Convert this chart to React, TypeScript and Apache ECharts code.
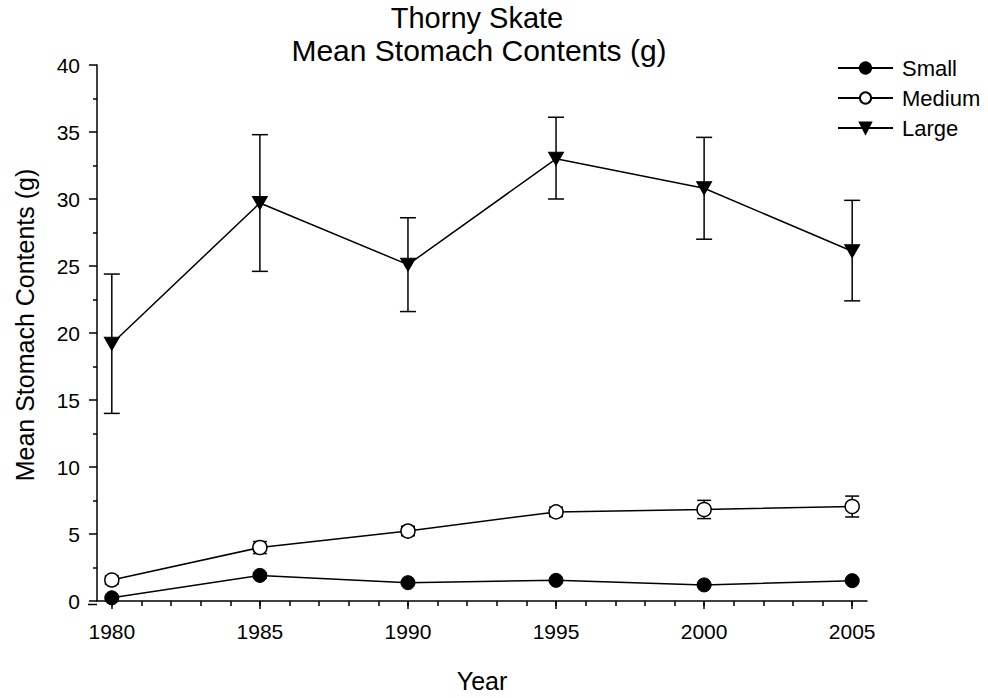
import React, { useEffect, useRef } from "react";
import * as echarts from "echarts";

const years = [1980, 1985, 1990, 1995, 2000, 2005];
const smallMean = [0.24, 1.91, 1.37, 1.54, 1.2, 1.52];
const smallErr = [0.1, 0.18, 0.1, 0.1, 0.1, 0.12];
const mediumMean = [1.57, 3.99, 5.22, 6.65, 6.83, 7.05];
const mediumErr = [0.3, 0.45, 0.35, 0.35, 0.68, 0.78];
const largeMean = [19.2, 29.7, 25.1, 33.0, 30.8, 26.1];
const largeLow = [14.0, 24.6, 21.6, 30.0, 27.0, 22.4];
const largeHigh = [24.4, 34.8, 28.6, 36.1, 34.6, 29.9];
const majorYears = [1980, 1985, 1990, 1995, 2000, 2005];
const minorYears = Array.from({ length: 26 }, (_, i) => 1980 + i);

const FONT = "Liberation Sans, Arial, sans-serif";

function errData(lo: number[], hi: number[]) {
  return years.map((y, i) => [y, lo[i], hi[i]]);
}

function errSeries(name: string, data: number[][], half: number) {
  return {
    type: "custom",
    name: name + "-err",
    xAxisIndex: 0,
    yAxisIndex: 0,
    z: 1,
    silent: true,
    renderItem: (params: any, api: any) => {
      const x = api.value(0);
      const lo = api.coord([x, api.value(1)]);
      const hi = api.coord([x, api.value(2)]);
      const st = { stroke: "#000", lineWidth: 1.5 };
      return {
        type: "group",
        children: [
          { type: "line", shape: { x1: lo[0], y1: lo[1], x2: hi[0], y2: hi[1] }, style: st },
          { type: "line", shape: { x1: lo[0] - half, y1: lo[1], x2: lo[0] + half, y2: lo[1] }, style: st },
          { type: "line", shape: { x1: hi[0] - half, y1: hi[1], x2: hi[0] + half, y2: hi[1] }, style: st },
        ],
      };
    },
    encode: { x: 0, y: [1, 2] },
    data,
  };
}

export default function App() {
  const ref = useRef<HTMLDivElement>(null);
  useEffect(() => {
    document.body.style.margin = "0";
    const chart = echarts.init(ref.current!, undefined, { renderer: "svg" });
    const lineStyle = { color: "#000", width: 1.5 };
    chart.setOption({
      animation: false,
      backgroundColor: "#fff",
      textStyle: { fontFamily: FONT, color: "#000" },
      title: [
        {
          text: "Thorny Skate",
          left: 477,
          top: 3,
          textAlign: "center",
          padding: 0,
          textStyle: { fontFamily: FONT, fontSize: 29, fontWeight: "normal", color: "#000", lineHeight: 29 },
        },
        {
          text: "Mean Stomach Contents (g)",
          left: 479,
          top: 35,
          textAlign: "center",
          padding: 0,
          textStyle: { fontFamily: FONT, fontSize: 30, fontWeight: "normal", color: "#000", lineHeight: 30 },
        },
      ],
      legend: {
        orient: "vertical",
        left: 832,
        top: 52,
        itemWidth: 55,
        itemHeight: 14,
        itemGap: 8,
        data: ["Small", "Medium", "Large"],
        textStyle: { fontFamily: FONT, fontSize: 22, color: "#000", padding: [0, 0, 0, 4] },
      },
      grid: { left: 97, right: 121, top: 65, bottom: 93.5 },
      xAxis: [
        {
          type: "value",
          min: 1979.5,
          max: 2005.5,
          name: "Year",
          nameLocation: "middle",
          nameGap: 67,
          nameTextStyle: { fontFamily: FONT, fontSize: 25, color: "#000" },
          axisLine: { show: true, lineStyle: { color: "#000", width: 1.5 } },
          axisTick: { show: true, customValues: majorYears, length: 8, lineStyle: { color: "#000", width: 1.5 } },
          axisLabel: {
            customValues: majorYears,
            fontSize: 21,
            color: "#000",
            margin: 20,
            fontFamily: FONT,
            formatter: (v: number) => String(v),
          },
          splitLine: { show: false },
        },
        {
          type: "value",
          min: 1979.5,
          max: 2005.5,
          position: "bottom",
          axisLine: { show: false },
          axisTick: { show: true, customValues: minorYears, length: 5, lineStyle: { color: "#000", width: 1.5 } },
          axisLabel: { show: false },
          splitLine: { show: false },
        },
      ],
      yAxis: {
        type: "value",
        min: 0,
        max: 40,
        interval: 5,
        name: "Mean Stomach Contents (g)",
        nameLocation: "middle",
        nameGap: 60,
        nameTextStyle: { fontFamily: FONT, fontSize: 25, color: "#000", padding: [0, 0, 0, 16] },
        axisLine: { show: true, lineStyle: { color: "#000", width: 1.5 } },
        axisTick: { show: true, length: 8, lineStyle: { color: "#000", width: 1.5 } },
        minorTick: { show: true, splitNumber: 2, length: 4, lineStyle: { color: "#000", width: 1.5 } },
        axisLabel: { fontSize: 21, color: "#000", margin: 17, fontFamily: FONT },
        splitLine: { show: false },
      },
      graphic: [
        { type: "line", shape: { x1: 88, y1: 604.5, x2: 97, y2: 604.5 }, style: { stroke: "#000", lineWidth: 1.5 } },
      ],
      series: [
        errSeries("Small", errData(smallMean.map((v, i) => v - smallErr[i]), smallMean.map((v, i) => v + smallErr[i])), 7),
        errSeries("Medium", errData(mediumMean.map((v, i) => v - mediumErr[i]), mediumMean.map((v, i) => v + mediumErr[i])), 7),
        errSeries("Large", errData(largeLow, largeHigh), 8),
        {
          type: "line",
          name: "Small",
          z: 3,
          data: years.map((y, i) => [y, smallMean[i]]),
          symbol: "circle",
          symbolSize: 14,
          lineStyle,
          itemStyle: { color: "#000", borderColor: "#000", borderWidth: 1 },
        },
        {
          type: "line",
          name: "Medium",
          z: 3,
          data: years.map((y, i) => [y, mediumMean[i]]),
          symbol: "circle",
          symbolSize: 14,
          lineStyle,
          itemStyle: { color: "#fff", borderColor: "#000", borderWidth: 1.5 },
        },
        {
          type: "line",
          name: "Large",
          z: 3,
          data: years.map((y, i) => [y, largeMean[i]]),
          symbol: "triangle",
          symbolRotate: 180,
          symbolSize: [15, 13],
          lineStyle,
          itemStyle: { color: "#000", borderColor: "#000", borderWidth: 1 },
        },
      ],
    });
    return () => chart.dispose();
  }, []);
  return <div ref={ref} style={{ width: 988, height: 698 }} />;
}
